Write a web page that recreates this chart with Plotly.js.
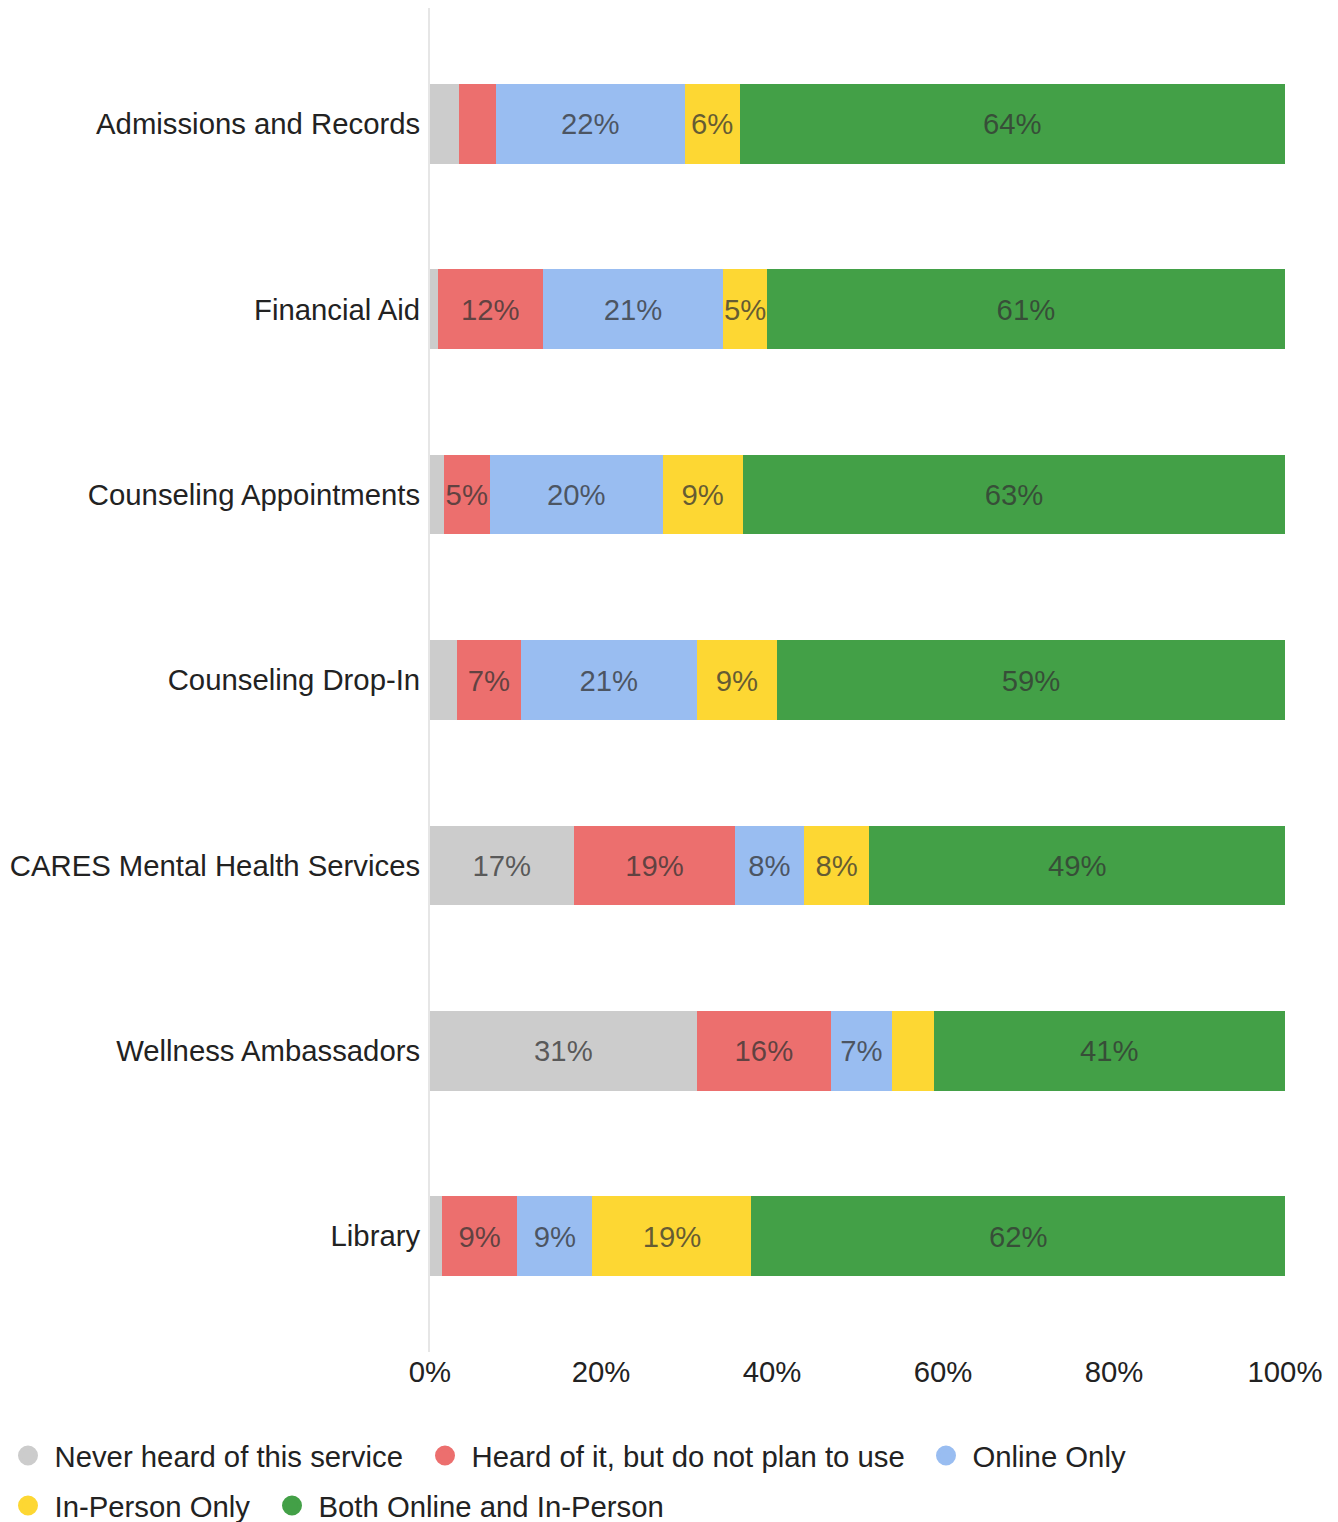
<!DOCTYPE html>
<html><head><meta charset="utf-8">
<script src="https://cdn.plot.ly/plotly-3.0.1.min.js"></script>
<style>html,body{margin:0;padding:0;background:#fff}</style>
</head><body>
<div id="chart" style="width:1338px;height:1522px"></div>
<script>
// ---- data ----
const categories = ["Admissions and Records", "Financial Aid", "Counseling Appointments", "Counseling Drop-In", "CARES Mental Health Services", "Wellness Ambassadors", "Library"];
const seriesNames = ["Never heard of this service", "Heard of it, but do not plan to use", "Online Only", "In-Person Only", "Both Online and In-Person"];
const neverHeard   = [3.4, 0.9, 1.6, 3.2, 16.8, 31.2, 1.4];
const heardNoPlan  = [4.3, 12.3, 5.4, 7.4, 18.9, 15.7, 8.8];
const onlineOnly   = [22.1, 21.1, 20.2, 20.6, 8.0, 7.1, 8.8];
const inPersonOnly = [6.4, 5.1, 9.4, 9.4, 7.7, 4.9, 18.6];
const bothModes    = [63.8, 60.6, 63.4, 59.4, 48.6, 41.1, 62.4];
const xTickValues  = [0, 20, 40, 60, 80, 100];
const xTickLabels  = ["0%", "20%", "40%", "60%", "80%", "100%"];

// ---- styles ----
const seriesValues = [neverHeard, heardNoPlan, onlineOnly, inPersonOnly, bothModes];
const colors = ["#cccccc", "#ec6f6e", "#99bdf1", "#fdd733", "#43a047"];
const FONT = '"Liberation Sans", Arial, Helvetica, sans-serif';
const FS = 29.3;
const legendIds = ["legend", "legend2", "legend3", "legend4", "legend5"];
const legendPos = [[28, 1456], [445, 1456], [946, 1456], [28, 1506], [292, 1506]];
const W = 1338, H = 1522;

const traces = [];
seriesValues.forEach((vals, i) => {
  traces.push({
    type: "bar", orientation: "h",
    y: categories, x: vals,
    name: seriesNames[i],
    marker: {color: colors[i], line: {width: 0}},
    width: 0.43,
    text: vals.map(v => v >= 5 ? Math.round(v) + "%" : ""),
    textposition: "inside", insidetextanchor: "middle", textangle: 0,
    textfont: {family: FONT, size: FS, color: "rgba(51,51,51,0.75)"},
    hovertemplate: "%{y}: %{x:.1f}%<extra>" + seriesNames[i] + "</extra>",
    showlegend: false
  });
});
seriesNames.forEach((n, i) => {
  traces.push({
    type: "scatter", mode: "markers", x: [null], y: [null],
    name: n, legend: legendIds[i], showlegend: true, hoverinfo: "skip",
    marker: {size: 16, color: colors[i], line: {width: 4, color: colors[i]}}
  });
});

const layout = {
  width: W, height: H,
  margin: {l: 430, r: 53, t: 8, b: 170, autoexpand: false},
  paper_bgcolor: "#fff", plot_bgcolor: "#fff",
  font: {family: FONT, size: FS, color: "#222"},
  barmode: "stack",
  uniformtext: {mode: "show", minsize: FS},
  xaxis: {
    range: [0, 100], tickmode: "array", tickvals: xTickValues, ticktext: xTickLabels,
    showgrid: false, zeroline: false, showline: false, ticks: "",
    tickfont: {family: FONT, size: FS, color: "#222"}, fixedrange: true
  },
  yaxis: {
    type: "category", categoryorder: "array", categoryarray: categories,
    range: [6.625, -0.625], showgrid: false, zeroline: false,
    showline: true, linecolor: "#e6e6e6", linewidth: 2,
    ticks: "", ticklabelstandoff: 2,
    tickfont: {family: FONT, size: FS, color: "#222"}, fixedrange: true
  },
  showlegend: true
};
legendIds.forEach((id, i) => {
  layout[id] = {
    xref: "container", yref: "container",
    x: (legendPos[i][0] - 26.5) / W, y: 1 - legendPos[i][1] / H,
    xanchor: "left", yanchor: "middle",
    orientation: "h", itemwidth: 43,
    font: {family: FONT, size: FS, color: "#222"},
    bgcolor: "rgba(0,0,0,0)", borderwidth: 0
  };
});

Plotly.newPlot("chart", traces, layout, {displayModeBar: false, staticPlot: true});
</script>
</body></html>
